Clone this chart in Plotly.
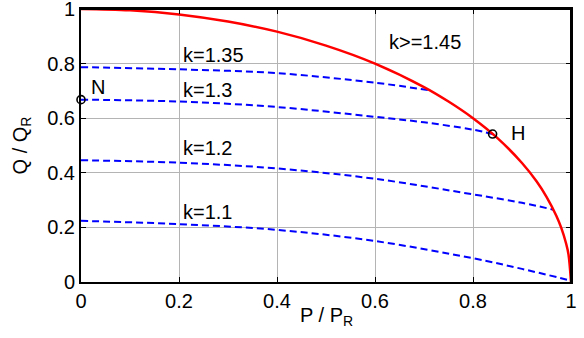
import plotly.graph_objects as go

# Limit curve (k >= 1.45)
limit_p = [0, 0.1, 0.2, 0.3, 0.4, 0.5, 0.6, 0.7, 0.75, 0.8, 0.85, 0.9, 0.93, 0.95, 0.97, 0.98, 0.99, 0.995, 1.0]
limit_q = [1.0, 0.995, 0.98, 0.954, 0.917, 0.866, 0.8, 0.714, 0.661, 0.6, 0.527, 0.436, 0.368, 0.312, 0.243, 0.199, 0.141, 0.1, 0.0]

# Curves for various k
k_labels = ["k=1.1", "k=1.2", "k=1.3", "k=1.35"]
k11_p = [0, 0.2, 0.4, 0.6, 0.8, 0.9, 1.0]
k11_q = [0.224, 0.212, 0.191, 0.15, 0.087, 0.048, 0.005]
k12_p = [0, 0.2, 0.4, 0.6, 0.8, 0.9, 0.964]
k12_q = [0.446, 0.437, 0.416, 0.378, 0.321, 0.29, 0.265]
k13_p = [0, 0.2, 0.4, 0.6, 0.7, 0.8, 0.84]
k13_q = [0.668, 0.661, 0.641, 0.605, 0.585, 0.558, 0.542]
k135_p = [0, 0.2, 0.4, 0.6, 0.712]
k135_q = [0.787, 0.779, 0.765, 0.73, 0.702]

# Marked points
pt_names = ["N", "H"]
pt_p = [0, 0.84]
pt_q = [0.668, 0.542]

tick_vals = [0, 0.2, 0.4, 0.6, 0.8, 1]
tick_text = ["0", "0.2", "0.4", "0.6", "0.8", "1"]

x_title = "P / P<sub>R</sub>"
y_title = "Q / Q<sub>R</sub>"

FONT = "Liberation Sans, Arial, sans-serif"
FS = 20
fig = go.Figure()

for px_, qy_ in [(k11_p, k11_q), (k12_p, k12_q), (k13_p, k13_q), (k135_p, k135_q)]:
    fig.add_trace(go.Scatter(x=px_, y=qy_, mode="lines", line=dict(color="#0000ff", width=2, dash="7px,4px", shape="spline"),
                             showlegend=False, cliponaxis=False))

fig.add_trace(go.Scatter(x=limit_p, y=limit_q, mode="lines", line=dict(color="#ff0000", width=2.5, shape="spline"),
                         showlegend=False, cliponaxis=False))

fig.add_trace(go.Scatter(x=pt_p, y=pt_q, mode="markers",
                         marker=dict(symbol="circle-open", size=8, color="black", line=dict(width=1.6)),
                         showlegend=False, cliponaxis=False))

labels = ["k=1.35", "k=1.3", "k=1.2", "k=1.1", "k>=1.45", "N", "H"]
label_x = [0.205, 0.205, 0.205, 0.205, 0.624, 0.017, 0.873]
label_y = [0.83, 0.705, 0.49, 0.258, 0.878, 0.714, 0.545]
for t, x, y in zip(labels, label_x, label_y):
    fig.add_annotation(x=x, y=y, text=t, showarrow=False, xanchor="left", yanchor="middle",
                       font=dict(family=FONT, size=FS, color="black"))

# x-axis title as an annotation for exact placement
fig.add_annotation(x=0.5, y=-0.073, xref="paper", yref="paper", text=x_title, showarrow=False,
                   xanchor="center", yanchor="top", font=dict(family=FONT, size=FS, color="black"))

# axes box (top and right edges)
fig.add_shape(type="line", xref="paper", yref="paper", x0=0, x1=1, y0=1, y1=1,
              line=dict(color="black", width=2), layer="above")
fig.add_shape(type="line", xref="paper", yref="paper", x0=1, x1=1, y0=0, y1=1,
              line=dict(color="black", width=2), layer="above")

axis_common = dict(showgrid=True, gridcolor="#b4b4b4", gridwidth=1, zeroline=False,
                   showline=True, linecolor="black", linewidth=2, mirror="allticks",
                   ticks="inside", ticklen=5, tickcolor="black", automargin=False,
                   ticklabeloverflow="allow",
                   tickfont=dict(family=FONT, size=FS, color="black"))

fig.update_xaxes(range=[0, 1], tickvals=tick_vals, ticktext=tick_text, **axis_common)
fig.update_yaxes(range=[0, 1], tickvals=tick_vals, ticktext=tick_text,
                 title=dict(text=y_title, font=dict(family=FONT, size=FS, color="black"), standoff=14),
                 **axis_common)

fig.update_layout(width=584, height=338, margin=dict(l=81, r=13, t=9, b=56),
                  plot_bgcolor="white", paper_bgcolor="white")

fig.write_html("out.html", config={"displayModeBar": False},
               post_script="document.body.style.margin='0';document.body.style.overflow='hidden';")
